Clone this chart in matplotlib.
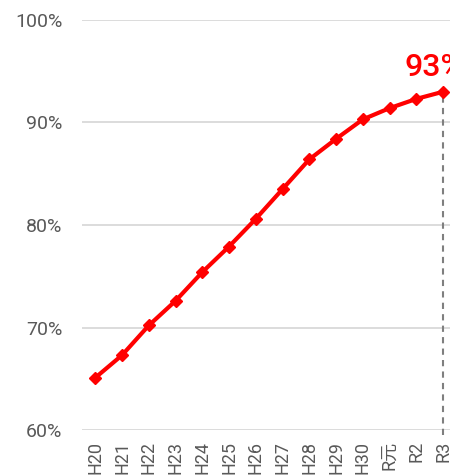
import matplotlib
matplotlib.use('Agg')
import matplotlib.pyplot as plt

plt.rcParams['font.family'] = ['Roboto', 'Noto Sans CJK JP', 'DejaVu Sans']

# survey years (Heisei / Reiwa) and coverage rate in %
years = ['H20', 'H21', 'H22', 'H23', 'H24', 'H25', 'H26', 'H27',
         'H28', 'H29', 'H30', 'R元', 'R2', 'R3']
rate = [65.1, 67.3, 70.2, 72.6, 75.4, 77.9, 80.6, 83.5,
        86.4, 88.4, 90.3, 91.4, 92.3, 93.0]
yticks = [60, 70, 80, 90, 100]

RED = '#ff0000'
GREY = '#595959'

fig = plt.figure(figsize=(4.5, 4.76), dpi=100)
ax = fig.add_axes([0.182, 0.0966, 0.818, 0.8614])

x = list(range(len(years)))
ax.plot(x, rate, color=RED, lw=3, marker='D', ms=6.5, zorder=3, clip_on=False)

# dashed drop line under the latest value
ax.plot([x[-1], x[-1]], [59.5, rate[-1]], color='#7f7f7f', lw=1.5,
        ls=(0, (3, 2.5)), zorder=2, clip_on=False)

# latest value label, runs past the right edge
ax.annotate(f'{rate[-1]:.0f}%', (x[-1], rate[-1]), xytext=(-28, 7),
            textcoords='offset points', ha='left', va='bottom',
            color=RED, fontsize=23, fontweight='medium',
            annotation_clip=False)

ax.set_xlim(-0.5, 13.26)
ax.set_ylim(60, 100)
ax.set_yticks(yticks)
ax.set_yticklabels([f'{v}%' for v in yticks])
ax.set_xticks(x)
ax.set_xticklabels(years, rotation=90, va='top', ha='center')
ax.tick_params(axis='y', length=0, pad=14, labelsize=14, labelcolor=GREY)
ax.tick_params(axis='x', length=0, pad=8, labelsize=13, labelcolor=GREY)
ax.grid(axis='y', color='#d9d9d9', lw=1.3)
ax.set_axisbelow(True)
for s in ax.spines.values():
    s.set_visible(False)

fig.savefig('out.png', dpi=100)
